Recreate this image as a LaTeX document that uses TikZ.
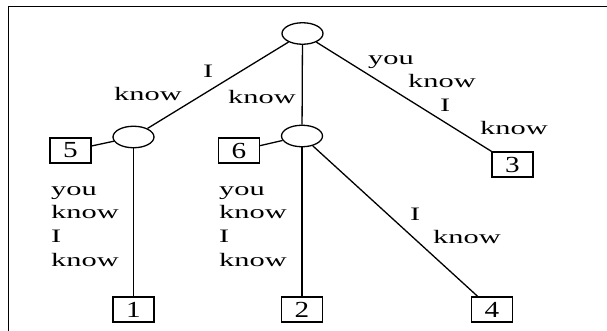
\documentclass[tikz,border=0pt]{standalone}
\usepackage{fontspec}
\setmainfont{Liberation Serif}
\usetikzlibrary{shapes.geometric}

% horizontally widened text, as in the printed figure
\newcommand\wtxt[1]{\scalebox{1.6}[1]{#1}}
\newcommand\wdig[1]{\scalebox{1.27}[1]{#1}}

\tikzset{
  state/.style={ellipse, draw, line width=1.3pt, minimum width=41pt, minimum height=21.5pt, inner sep=0pt},
  leaf/.style={rectangle, draw, line width=1.3pt, minimum width=41pt, minimum height=25pt, inner sep=0pt,
               font=\fontsize{23}{23}\selectfont},
  edge/.style={line width=1.3pt},
  lbl/.style={inner sep=0pt, anchor=base west, font=\fontsize{19}{23.7}\selectfont},
}

\begin{document}
\begin{tikzpicture}[x=1pt, y=-1pt]
\useasboundingbox (0,0) rectangle (607,331);

% frame
\draw[line width=1.4pt] (8.5,331) |- (607,6.5);

% tree nodes
\node[state] (T) at (302.5,33.5) {};
\node[state] (L) at (133.5,137) {};
\node[state] (M) at (302,136) {};
\node[leaf] (B5) at (70.5,150.5) {\wdig{5}};
\node[leaf] (B6) at (239,150.5) {\wdig{6}};
\node[leaf] (B1) at (133.5,309.5) {\wdig{1}};
\node[leaf] (B2) at (302,309.5) {\wdig{2}};
\node[leaf] (B3) at (512.5,164.5) {\wdig{3}};
\node[leaf] (B4) at (492,309.5) {\wdig{4}};

% branches
\draw[edge] (T) -- (L);
\draw[edge] (T) -- (M);
\draw[edge] (T) -- (B3);
\draw[edge] (L) -- (B5);
\draw[edge] (L) -- (B1);
\draw[edge] (M) -- (B6);
\draw[edge] (M) -- (B2);
\draw[edge] (M) -- (B4);

% branch labels
\node[lbl] (l1a) at (203,78)  {\wtxt{I}};
\node[lbl] (l1b) at (114,101) {\wtxt{know}};
\node[lbl] (l2)  at (228,104) {\wtxt{know}};
\node[lbl] (l3a) at (368,65)  {\wtxt{you}};
\node[lbl] (l3b) at (408,88)  {\wtxt{know}};
\node[lbl] (l3c) at (440,112) {\wtxt{I}};
\node[lbl] (l3d) at (480,135) {\wtxt{know}};
\node[lbl] (l4)  at (51,195)  {\wtxt{\begin{tabular}[t]{@{}l@{}}you\\know\\I\\know\end{tabular}}};
\node[lbl] (l5)  at (219,195) {\wtxt{\begin{tabular}[t]{@{}l@{}}you\\know\\I\\know\end{tabular}}};
\node[lbl] (l6a) at (410,220) {\wtxt{I}};
\node[lbl] (l6b) at (433,243) {\wtxt{know}};
\end{tikzpicture}
\end{document}
